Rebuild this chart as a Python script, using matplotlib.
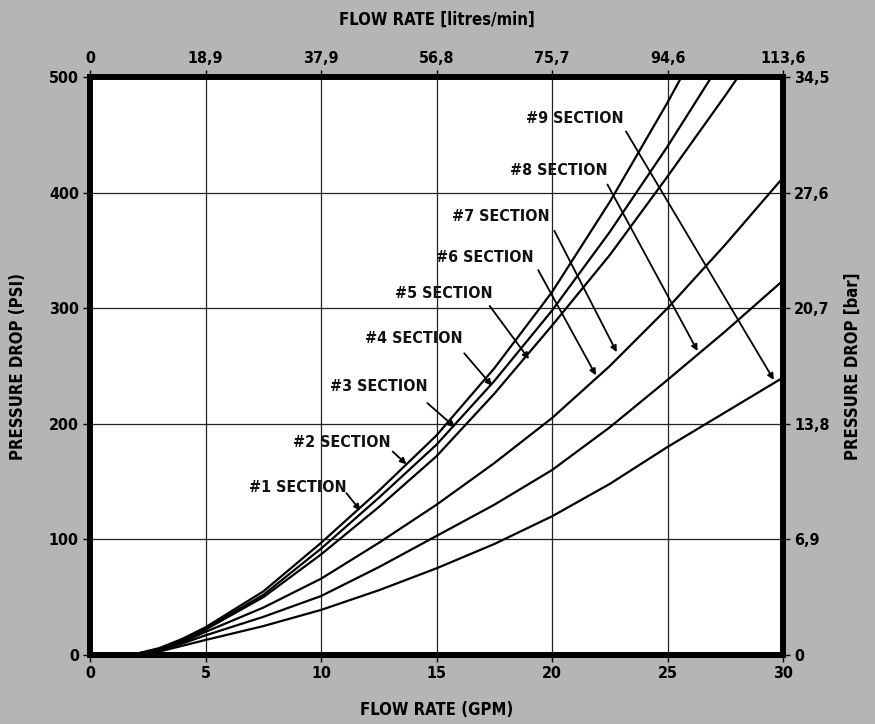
import matplotlib
matplotlib.use('Agg')
import matplotlib.pyplot as plt

plt.rcParams['font.family'] = ['DejaVu Sans']
plt.rcParams['font.stretch'] = 'condensed'
plt.rcParams['font.weight'] = 'bold'

# Flow rate (GPM) / pressure drop (PSI)
gpm_s1 = [1.4, 2, 3, 4, 5, 7.5, 10, 12.5, 15, 17.5, 20, 22.5, 25, 25.6]
psi_s1 = [0, 1, 6, 14, 24, 55, 97, 142, 190, 248, 314, 392, 478, 500]

gpm_s2 = [1.4, 2, 3, 4, 5, 7.5, 10, 12.5, 15, 17.5, 20, 22.5, 25, 26.9]
psi_s2 = [0, 1, 5, 13, 23, 52, 92, 136, 182, 237, 298, 366, 440, 500]

gpm_s3 = [1.4, 2, 3, 4, 5, 7.5, 10, 12.5, 15, 17.5, 20, 22.5, 25, 27.5, 28.05]
psi_s3 = [0, 1, 5, 12, 22, 50, 87, 128, 172, 226, 285, 346, 414, 484, 500]

gpm_low = [1.4, 2, 3, 4, 5, 7.5, 10, 12.5, 15, 17.5, 20, 22.5, 25, 27.5, 30]
psi_a = [0, 1, 4, 11, 20, 41, 66, 97, 130, 166, 205, 250, 300, 355, 413]
psi_b = [0, 1, 4, 10, 17, 33, 51, 76, 103, 130, 160, 197, 238, 280, 324]
psi_c = [0, 1, 3, 8, 13, 25, 39, 56, 75, 96, 120, 148, 180, 210, 240]

# secondary scales
gpm_ticks = [0, 5, 10, 15, 20, 25, 30]
lpm_labels = ['0', '18,9', '37,9', '56,8', '75,7', '94,6', '113,6']
psi_ticks = [0, 100, 200, 300, 400, 500]
bar_labels = ['0', '6,9', '13,8', '20,7', '27,6', '34,5']

# section labels: text position, arrow tail, arrow head (GPM, PSI)
sections = ['#1 SECTION', '#2 SECTION', '#3 SECTION', '#4 SECTION', '#5 SECTION',
            '#6 SECTION', '#7 SECTION', '#8 SECTION', '#9 SECTION']
label_xy = [(9.0, 145), (10.9, 184), (12.5, 232), (14.0, 274), (15.3, 313),
            (17.1, 344), (17.8, 379), (20.3, 419), (21.0, 464)]
tail_xy = [(11.1, 140), (13.1, 176), (14.6, 218), (16.2, 261), (17.3, 302),
           (19.4, 333), (20.1, 367), (22.4, 407), (23.2, 453)]
head_xy = [(11.7, 125), (13.7, 165), (15.8, 197), (17.4, 233), (19.0, 256),
           (21.9, 242), (22.8, 262), (26.3, 263), (29.6, 238)]

bg = '#b5b5b5'
fig = plt.figure(figsize=(8.75, 7.24), dpi=100, facecolor=bg)
ax = fig.add_axes([0.1029, 0.0953, 0.792, 0.7983])
ax.set_facecolor('white')

for x, y in [(gpm_s1, psi_s1), (gpm_s2, psi_s2), (gpm_s3, psi_s3),
             (gpm_low, psi_a), (gpm_low, psi_b), (gpm_low, psi_c)]:
    ax.plot(x, y, color='black', lw=1.6, solid_capstyle='round',
            solid_joinstyle='round', zorder=3)

for txt, lxy, t, h in zip(sections, label_xy, tail_xy, head_xy):
    ax.text(lxy[0], lxy[1], txt, ha='center', va='center', fontsize=11.5,
            fontweight='bold', color='#111111', zorder=4)
    ax.annotate('', xy=h, xytext=t,
                arrowprops=dict(arrowstyle='-|>', color='black', lw=1.3,
                                mutation_scale=9, shrinkA=0, shrinkB=0),
                zorder=4)

ax.set_xlim(0, 30)
ax.set_ylim(0, 500)
ax.set_xticks(gpm_ticks)
ax.set_yticks(psi_ticks)
ax.grid(True, color='#222222', lw=0.9)
ax.set_axisbelow(True)
for s in ax.spines.values():
    s.set_linewidth(4)
    s.set_zorder(5)
ax.tick_params(direction='out', length=5, width=1, labelsize=11.5, pad=3)
ax.set_xlabel('FLOW RATE (GPM)', fontsize=12, fontweight='bold', labelpad=14)
ax.set_ylabel('PRESSURE DROP (PSI)', fontsize=12, fontweight='bold', labelpad=16)

top = ax.twiny()
top.set_xlim(ax.get_xlim())
top.set_xticks(gpm_ticks)
top.set_xticklabels(lpm_labels)
top.tick_params(direction='out', length=5, width=1, labelsize=11.5, pad=3)
top.set_xlabel('FLOW RATE [litres/min]', fontsize=12, fontweight='bold', labelpad=19)

right = ax.twinx()
right.set_ylim(ax.get_ylim())
right.set_yticks(psi_ticks)
right.set_yticklabels(bar_labels)
right.tick_params(direction='out', length=5, width=1, labelsize=11.5, pad=3)
right.set_ylabel('PRESSURE DROP [bar]', fontsize=12, fontweight='bold', labelpad=10)

for a in (top, right):
    for s in a.spines.values():
        s.set_linewidth(4)

fig.savefig('out.png', dpi=100, facecolor=bg)
